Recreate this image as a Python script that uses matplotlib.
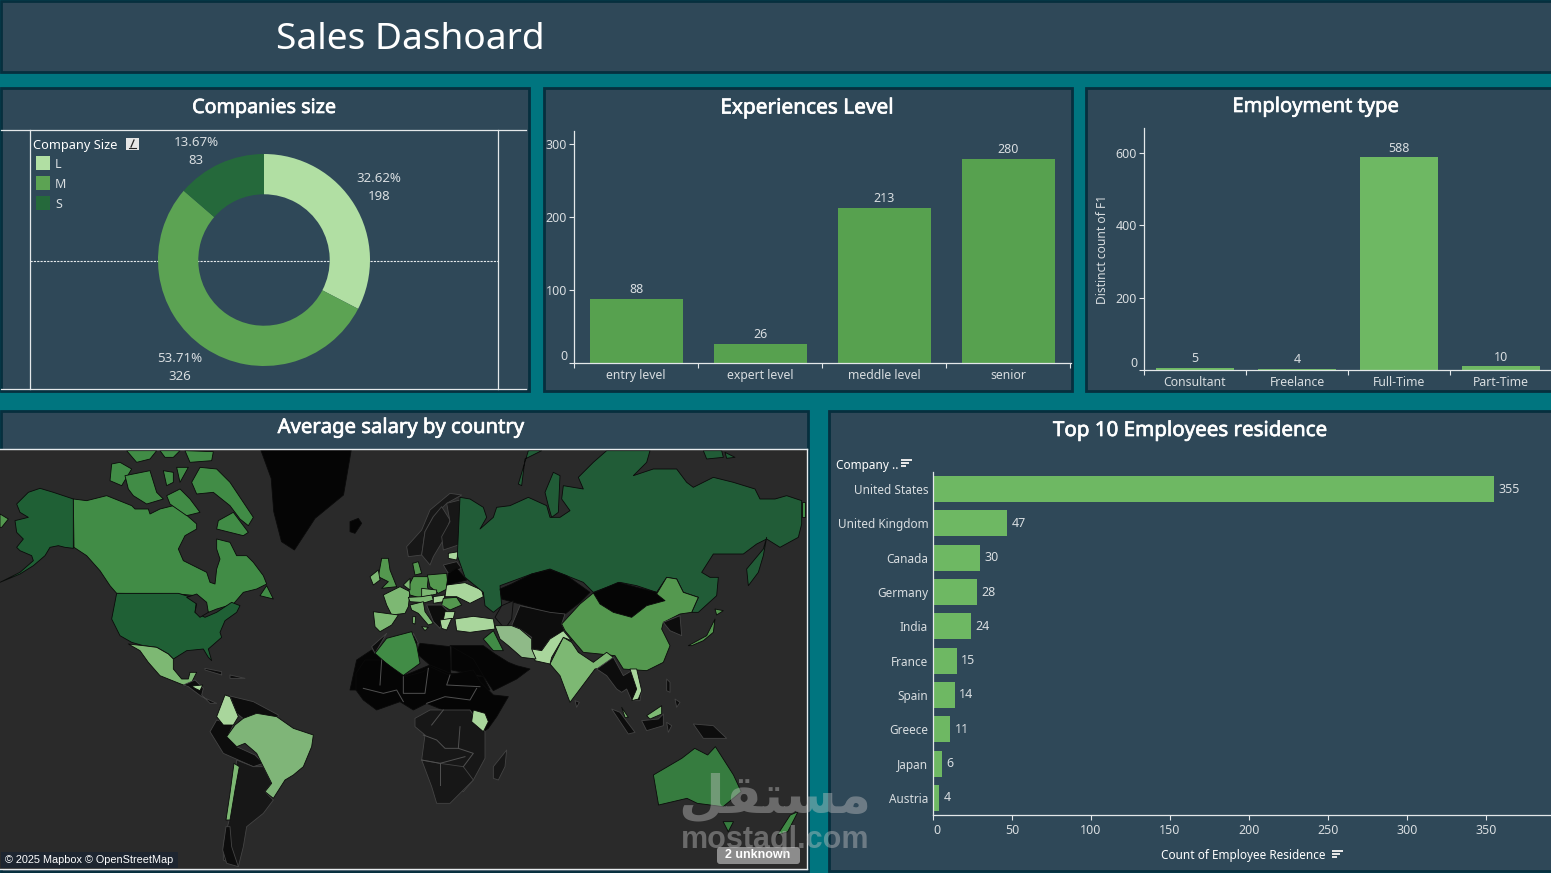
import matplotlib
matplotlib.use('Agg')
import matplotlib.pyplot as plt
import matplotlib.patheffects as pe
from matplotlib.patches import Rectangle, Polygon, FancyBboxPatch

plt.rcParams['font.family'] = ['Noto Sans', 'DejaVu Sans']

W, H = 1551, 873

size_labels = ['L', 'M', 'S']
size_counts = [198, 326, 83]
size_pcts = ['32.62%', '53.71%', '13.67%']

exp_levels = ['entry level', 'expert level', 'meddle level', 'senior']
exp_counts = [88, 26, 213, 280]
exp_ticks = [0, 100, 200, 300]

emp_types = ['Consultant', 'Freelance', 'Full-Time', 'Part-Time']
emp_counts = [5, 4, 588, 10]
emp_ticks = [0, 200, 400, 600]

countries = ['United States', 'United Kingdom', 'Canada', 'Germany', 'India',
             'France', 'Spain', 'Greece', 'Japan', 'Austria']
country_counts = [355, 47, 30, 28, 24, 15, 14, 11, 6, 4]
country_ticks = [0, 50, 100, 150, 200, 250, 300, 350]

# country shades on the map
deep = '#1f6035'
dark = '#215c37'
mid = '#418c46'
med2 = '#54984f'
aus = '#367c3f'
light = '#7db873'
brz = '#7fb578'
pale = '#a9d69c'
sage = '#8fba88'
black = '#050505'
coal = '#0d0d0d'
soot = '#171717'
sea = '#2a2a2a'

# outlines per map sheet, on a sheet grid three times the screen size
north_america = [
    ([(50,165),(85,130),(120,118),(160,130),(220,150),(220,298),(195,295),(175,290),(150,295),(135,320),(100,350),(60,375),(0,400),(60,370),(100,335),(95,320),(60,305),(50,295),(70,270),(50,250),(45,215),(85,205),(60,190)], deep),
    ([(220,150),(260,155),(300,145),(320,140),(345,150),(395,170),(405,180),(445,180),(450,195),(480,180),(520,170),(550,190),(590,225),(590,240),(555,260),(535,300),(550,335),(600,360),(620,370),(630,400),(645,405),(650,360),(660,330),(650,300),(650,270),(690,280),(710,320),(740,320),(760,340),(790,380),(800,405),(770,420),(730,430),(700,465),(650,480),(625,490),(610,460),(590,440),(535,435),(350,433),(330,410),(300,365),(260,320),(222,295)], mid),
    ([(780,440),(800,410),(820,450)], mid),
    ([(350,433),(535,433),(590,450),(585,490),(615,505),(650,490),(695,460),(720,470),(710,490),(675,515),(660,550),(665,565),(625,600),(635,635),(625,625),(610,600),(560,605),(520,630),(505,615),(470,595),(430,590),(395,580),(360,560),(335,510)], deep),
    ([(560,445),(590,435),(620,460),(625,490),(600,505),(585,490),(590,465)], sea),
    ([(385,585),(430,590),(470,595),(505,615),(520,630),(520,660),(545,690),(565,690),(570,670),(590,670),(575,700),(560,712),(530,700),(480,680),(445,640),(420,605)], light),
    ([(335,45),(360,40),(395,60),(365,110),(330,95)], mid),
    ([(375,80),(450,65),(470,130),(490,150),(440,165),(400,140),(385,120)], mid),
    ([(490,65),(520,70),(520,100),(500,110)], mid),
    ([(530,55),(565,55),(540,100)], mid),
    ([(575,100),(600,55),(650,60),(690,100),(730,160),(760,205),(745,230),(720,210),(690,170),(640,130),(590,135)], mid),
    ([(380,5),(470,5),(450,30),(410,40)], mid),
    ([(555,5),(640,8),(635,35),(570,40)], mid),
    ([(480,5),(540,5),(520,25),(495,25)], mid),
    ([(500,140),(540,120),(570,150),(600,190),(560,200),(510,165)], mid),
    ([(655,215),(700,190),(745,250),(730,260),(690,250),(650,240)], mid),
    ([(0,195),(25,210),(5,235),(0,235)], med2),
]

eurasia = [
    ([(30,145),(60,150),(100,175),(110,205),(90,240),(130,205),(140,175),(180,170),(235,145),(290,170),(300,205),(330,205),(360,185),(335,150),(340,110),(400,120),(385,85),(430,40),(470,5),(600,5),(590,40),(550,80),(610,60),(680,60),(710,100),(730,115),(790,85),(850,100),(915,120),(930,150),(975,150),(1010,140),(1055,155),(1055,225),(1045,265),(990,295),(950,270),(920,285),(880,315),(790,315),(755,370),(780,385),(805,385),(800,440),(745,490),(725,490),(745,445),(700,430),(680,390),(650,385),(620,430),(560,410),(510,400),(430,430),(400,400),(350,380),(300,360),(245,375),(150,410),(155,470),(130,490),(105,470),(100,430),(45,385),(22,320)], dark),
    ([(205,105),(235,5),(275,5),(225,30),(215,110)], dark),
    ([(285,130),(310,70),(330,80),(325,190),(305,205),(295,170)], dark),
    ([(895,410),(890,360),(940,300),(950,265),(940,320),(925,370)], dark),
    ([(760,5),(815,5),(820,25),(770,30)], dark),
    ([(825,10),(855,25),(830,28)], dark),
    ([(1055,160),(1066,160),(1066,205),(1055,205)], mid),
    ([(150,420),(185,405),(245,375),(300,362),(350,380),(420,430),(390,460),(345,495),(300,490),(210,465),(155,450)], black),
    ([(210,470),(300,490),(345,495),(335,525),(345,545),(300,570),(275,605),(245,600),(245,565),(210,540),(185,530)], coal),
    ([(155,470),(190,455),(185,510),(165,540),(135,505)], sea),
    ([(430,432),(470,415),(505,400),(560,415),(620,430),(645,455),(590,470),(545,505),(490,490),(450,465)], black),
    ([(335,525),(390,465),(430,432),(450,465),(490,490),(545,505),(590,470),(645,455),(620,435),(650,385),(680,390),(700,430),(745,445),(725,490),(690,495),(640,520),(635,540),(660,590),(640,640),(590,665),(520,660),(495,620),(450,615),(400,610),(370,575),(345,545)], med2),
    ([(300,645),(340,565),(365,580),(385,610),(430,640),(470,610),(490,625),(460,655),(435,660),(390,720),(360,760),(330,680)], light),
    ([(245,600),(275,605),(300,570),(340,545),(365,575),(340,565),(305,625),(300,645),(255,635)], pale),
    ([(135,530),(185,530),(210,540),(245,570),(245,600),(258,630),(215,625),(175,590),(150,570)], sage),
    ([(15,510),(70,502),(130,510),(135,540),(60,550),(20,545)], pale),
    ([(100,570),(130,545),(160,605),(130,605)], mid),
    ([(0,590),(65,590),(100,590),(135,615),(175,640),(200,650),(240,660),(200,690),(130,725),(100,680),(70,630)], black),
    ([(440,660),(490,625),(520,680),(545,665),(575,720),(570,755),(545,755),(530,720),(515,730),(500,720),(470,680)], coal),
    ([(540,660),(560,660),(575,725),(565,750),(545,755),(560,720)], pale),
    ([(640,520),(690,500),(695,560),(660,545)], coal),
    ([(715,590),(770,560),(795,510),(790,550),(760,575),(725,590)], med2),
    ([(795,480),(820,485),(800,498)], med2),
    ([(485,780),(510,790),(555,850),(535,855)], coal),
    ([(515,775),(535,805),(525,805)], light),
    ([(575,815),(625,810),(640,795),(640,830),(590,845)], coal),
    ([(590,800),(635,770),(635,795),(600,810)], light),
    ([(650,690),(660,700),(660,730),(650,725)], coal),
    ([(675,750),(690,760),(680,775)], coal),
    ([(650,820),(665,830),(655,850)], coal),
    ([(730,825),(790,830),(830,868),(760,868)], coal),
    ([(375,755),(388,760),(380,775)], coal),
]

europe = [
    ([(170,170),(215,120),(240,60),(300,10),(335,15),(290,40),(250,80),(225,125),(215,195),(175,200)], soot),
    ([(215,195),(225,125),(250,80),(275,50),(300,90),(280,150),(250,200),(240,225)], soot),
    ([(290,40),(330,30),(340,120),(325,165),(280,180),(275,140),(300,95)], soot),
    ([(0,95),(25,85),(35,100),(15,130),(0,125)], black),
    ([(85,260),(95,205),(115,205),(120,240),(140,290),(95,295),(115,275)], med2),
    ([(60,260),(85,240),(90,270),(70,285)], light),
    ([(100,315),(150,290),(180,305),(175,350),(165,370),(125,375),(110,345)], light),
    ([(70,365),(145,375),(125,405),(90,425),(75,410)], light),
    ([(175,290),(190,260),(235,260),(232,290),(240,310),(215,325),(180,315)], med2),
    ([(232,255),(290,250),(295,295),(265,310),(240,290)], med2),
    ([(215,295),(260,300),(260,312),(215,322)], light),
    ([(215,320),(245,315),(250,330),(225,338),(180,335),(175,322)], light),
    ([(250,320),(285,315),(280,335),(250,340)], pale),
    ([(290,285),(345,278),(395,300),(400,320),(360,340),(320,320),(285,320)], pale),
    ([(280,325),(320,322),(335,345),(300,360),(275,345)], med2),
    ([(180,345),(220,335),(225,365),(250,400),(235,405),(205,370),(185,360)], light),
    ([(215,410),(235,412),(225,422)], light),
    ([(188,380),(197,380),(195,402),(188,400)], light),
    ([(230,345),(275,345),(305,375),(280,390),(270,415),(250,395)], coal),
    ([(285,365),(315,365),(310,385),(280,390)], pale),
    ([(270,390),(305,385),(290,420),(275,415)], pale),
    ([(295,190),(325,185),(320,210),(295,205)], pale),
    ([(280,225),(320,215),(335,235),(295,250)], coal),
    ([(295,250),(320,235),(350,270),(290,285)], black),
    ([(188,220),(205,215),(215,250),(195,255)], med2),
    ([(160,285),(180,265),(180,300)], light),
    ([(0,600),(20,510),(65,480),(75,490),(155,560),(100,600)], black),
    ([(65,470),(110,430),(75,490)], coal),
    ([(200,490),(210,460),(300,470),(302,550),(240,525)], black),
    ([(305,470),(360,480),(405,560),(305,540)], black),
    ([(190,430),(205,460),(190,470)], coal),
    ([(75,490),(110,445),(185,425),(200,465),(210,520),(155,560)], mid),
    ([(155,560),(240,525),(302,550),(400,560),(420,600),(100,600)], black),
]

south_lands = [
    ([(678,40),(705,0),(755,0),(825,50),(880,35),(900,20),(955,45),(1030,30),(1050,65),(1090,105),(1135,110),(1100,170),(1075,205),(1060,215),(1020,150),(940,150),(890,130),(850,150),(810,125),(740,150),(700,120),(678,90)], black),
    ([(855,175),(900,150),(1020,150),(1065,215),(1065,295),(1030,360),(1000,395),(875,300),(885,225),(855,200)], soot),
    ([(875,300),(930,310),(1000,320),(1030,360),(1010,380),(960,430),(920,430),(905,380)], soot),
    ([(1030,150),(1065,160),(1075,185),(1060,215),(1025,185)], pale),
    ([(1090,320),(1130,270),(1125,320),(1105,360),(1090,355)], soot),
    ([(160,75),(195,60),(220,85),(215,105),(240,130),(260,130),(215,110),(175,80)], coal),
    ([(185,78),(218,75),(210,92),(195,85)], pale),
    ([(225,25),(275,35),(275,45),(225,30)], coal),
    ([(300,45),(345,55),(300,55)], coal),
    ([(300,108),(370,125),(445,165),(440,180),(380,160),(345,180),(320,160)], coal),
    ([(240,215),(260,180),(310,195),(295,225),(320,260),(375,285),(400,310),(370,320),(325,300),(280,280)], coal),
    ([(260,170),(285,105),(300,110),(325,170),(310,195),(280,195)], pale),
    ([(320,300),(370,320),(400,320),(425,370),(405,395),(430,420),(400,460),(350,500),(340,560),(325,620),(280,600),(280,550),(300,470)], soot),
    ([(290,230),(315,195),(340,175),(380,160),(440,170),(490,205),(550,225),(545,260),(520,320),(490,345),(465,360),(430,415),(405,395),(425,370),(400,320),(380,280),(345,250),(320,260)], brz),
    ([(312,310),(328,320),(315,390),(300,480),(288,480),(300,400)], light),
    ([(288,500),(300,500),(305,560),(325,620),(290,610),(278,570)], coal),
]

# african borders on the same sheet
africa_borders = [
    [(700,85),(760,100),(800,90),(820,125)],
    [(755,0),(750,75)],
    [(820,50),(820,100),(885,100),(895,25)],
    [(960,45),(950,75),(1050,80)],
    [(890,130),(945,110),(1020,120),(1040,85)],
    [(905,195),(940,150)],
    [(990,200),(985,265),(1030,280),(1000,320)],
    [(930,310),(930,375)],
    [(880,225),(920,240),(945,265),(985,265)],
    [(875,300),(930,310),(1005,290)],
]

# greenland and the southern pacific, on a wider sheet
far_lands = [
    ([(505,15),(680,15),(665,150),(610,220),(570,315),(545,290),(530,200),(525,100)], black),
    ([(1265,990),(1320,940),(1345,910),(1370,930),(1385,905),(1420,990),(1435,1040),(1400,1085),(1350,1075),(1330,1060),(1275,1080)], aus),
    ([(1400,1130),(1420,1130),(1410,1160)], aus),
    ([(1530,1110),(1545,1100),(1525,1160),(1505,1170)], mid),
]

teal = '#00757f'
panel = '#2f4858'
border = '#062f3e'
txt = '#d8dde0'
axis_col = '#e4e8ea'
bar_exp = '#57a14f'
bar_emp = '#6eb863'
size_colors = ['#b1dfa3', '#5ca353', '#25693b']
heavy = [pe.withStroke(linewidth=0.5, foreground='white')]


def px_axes(left, top, right, bottom, **kw):
    return fig.add_axes([left / W, 1 - bottom / H, (right - left) / W, (bottom - top) / H], **kw)


def style_bar_axes(ax):
    ax.patch.set_alpha(0)
    for s in ['top', 'right']:
        ax.spines[s].set_visible(False)
    for s in ['left', 'bottom']:
        ax.spines[s].set_color(axis_col)
        ax.spines[s].set_linewidth(0.9)
    ax.tick_params(colors=txt, labelsize=9, length=3.5, width=0.8, color=axis_col, pad=1.5)


def sheet_points(pts, ox, oy, sx=3.0, sy=3.0):
    return [(ox + x / sx, oy + y / sy) for x, y in pts]


fig = plt.figure(figsize=(W / 100, H / 100), dpi=100, facecolor=teal)

# background layer with all the panels
bg = px_axes(0, 0, W, H, zorder=0)
bg.set_xlim(0, W)
bg.set_ylim(H, 0)
bg.axis('off')
for x0, y0, x1, y1 in [(1, 1, 1552, 72), (1, 88, 528.5, 390.5), (544, 88, 1071.5, 390.5),
                       (1086, 88, 1553, 390.5), (1, 411, 808, 872), (829, 411, 1553, 871)]:
    bg.add_patch(Rectangle((x0, y0), x1 - x0, y1 - y0, fc=panel, ec=border, lw=2))

bg.text(276, 40, 'Sales Dashoard', color='white', fontsize=26.7, va='center')
panel_titles = [(264, 108, 'Companies size', 14.2), (807, 108, 'Experiences Level', 15),
                (1316, 107, 'Employment type', 14.5), (401, 428, 'Average salary by country', 14.6),
                (1190, 431, 'Top 10 Employees residence', 14.8)]
for x, y, label, fs in panel_titles:
    bg.text(x, y, label, color='white', fontsize=fs, ha='center', va='center', path_effects=heavy)

# frame lines of the donut sheet
bg.plot([1, 526], [130, 130], color=axis_col, lw=0.9)
bg.plot([1, 526], [389, 389], color=axis_col, lw=0.9)
bg.plot([30, 30], [130, 389], color=axis_col, lw=0.9)
bg.plot([498, 498], [130, 389], color=axis_col, lw=0.9)
bg.plot([30, 498], [261, 261], color=axis_col, lw=0.8, ls=(0, (2, 1)))

# legend for company size
bg.text(33, 145, 'Company Size', color='white', fontsize=9.2, va='center')
bg.add_patch(Rectangle((126, 138), 13, 12, fc='#e6e6e6', ec='none'))
bg.plot([129, 136], [148, 148], color='#222222', lw=0.8)
bg.plot([131, 134], [147, 140], color='#222222', lw=0.9)
for i, lab in enumerate(size_labels):
    y = 163 + 20 * i
    bg.add_patch(Rectangle((36, y - 7), 14, 14, fc=size_colors[i], ec='none'))
    bg.text(55, y + 1, lab, color=txt, fontsize=9, va='center')

# donut
donut = px_axes(158, 154, 370, 366, zorder=2)
donut.pie(size_counts, colors=size_colors, startangle=90, counterclock=False, radius=1,
          wedgeprops={'width': 0.38, 'linewidth': 0})
donut.set_xlim(-1, 1)
donut.set_ylim(-1, 1)

size_label_pos = [(379, 187), (180, 368), (196, 151)]
for (x, y), pct, n in zip(size_label_pos, size_pcts, size_counts):
    bg.text(x, y - 9, pct, color=txt, fontsize=9.5, ha='center', va='center')
    bg.text(x, y + 9, str(n), color=txt, fontsize=9.5, ha='center', va='center')

# experience bars
ax1 = px_axes(574, 131, 1071, 363, zorder=2)
ax1.bar(range(4), exp_counts, width=0.75, color=bar_exp)
ax1.set_xlim(-0.5, 3.508)
ax1.set_ylim(0, 232 / 0.73)
ax1.set_xticks([-0.5, 0.5, 1.5, 2.5, 3.5])
ax1.set_xticklabels([])
ax1.set_yticks(exp_ticks)
ax1.set_yticklabels(exp_ticks)
style_bar_axes(ax1)
ax1.get_yticklabels()[0].set_va('bottom')
for i, v in enumerate(exp_counts):
    ax1.annotate(str(v), (i, v), xytext=(0, 2), textcoords='offset points', ha='center',
                 va='bottom', color=txt, fontsize=9)
    ax1.annotate(exp_levels[i], (i, 0), xytext=(0, -4.5), textcoords='offset points', ha='center',
                 va='top', color=txt, fontsize=8.8)

# employment type bars
ax2 = px_axes(1144, 128, 1551, 370, zorder=2)
ax2.bar(range(4), emp_counts, width=0.76, color=bar_emp)
ax2.set_xlim(-0.5, 3.49)
ax2.set_ylim(0, 242 / 0.3617)
ax2.set_xticks([-0.5, 0.5, 1.5, 2.5])
ax2.set_xticklabels([])
ax2.set_yticks(emp_ticks)
ax2.set_yticklabels(emp_ticks)
style_bar_axes(ax2)
ax2.get_yticklabels()[0].set_va('bottom')
ax2.set_ylabel('Distinct count of F1', color=txt, fontsize=8.7, labelpad=5)
for i, v in enumerate(emp_counts):
    ax2.annotate(str(v), (i, v), xytext=(0, 2), textcoords='offset points', ha='center',
                 va='bottom', color=txt, fontsize=9)
    ax2.annotate(emp_types[i], (i, 0), xytext=(0, -4), textcoords='offset points', ha='center',
                 va='top', color=txt, fontsize=8.8)

# top 10 horizontal bars
ax3 = px_axes(933, 472, 1551, 815, zorder=2)
ax3.barh(range(10), country_counts, height=0.76, color=bar_emp)
ax3.set_xlim(0, 618 / 1.58)
ax3.set_ylim(9.5, -0.5)
ax3.set_yticks(range(10))
ax3.set_yticklabels(countries)
ax3.set_xticks(country_ticks)
ax3.set_xticklabels(country_ticks)
style_bar_axes(ax3)
ax3.tick_params(axis='y', length=0, pad=3.5, labelsize=8.5)
ax3.tick_params(axis='x', pad=3)
ax3.get_xticklabels()[0].set_ha('left')
for i, v in enumerate(country_counts):
    ax3.annotate(str(v), (v, i), xytext=(3, 0), textcoords='offset points', va='center',
                 color=txt, fontsize=9)
bg.text(836, 465, 'Company ..', color='white', fontsize=8.5, va='center')
bg.text(1243, 856, 'Count of Employee Residence', color='white', fontsize=8.5, ha='center', va='center')
for ix, iy in [(901, 459), (1332, 850)]:
    for k, wd in enumerate([11, 8, 5]):
        bg.add_patch(Rectangle((ix, iy + k * 3), wd, 2, fc='#e6e6e6', ec='none'))

# map
mp = px_axes(0, 449, 807, 869, zorder=3)
mp.set_xlim(0, 807)
mp.set_ylim(869, 449)
mp.patch.set_facecolor(sea)
for s in mp.spines.values():
    s.set_color('#e8ecee')
    s.set_linewidth(1)
mp.spines['left'].set_visible(False)
mp.set_xticks([])
mp.set_yticks([])

sheets = [(north_america, 0, 449, 3.0, 3.0), (europe, 350, 490, 3.0, 3.0),
          (eurasia, 450, 449, 3.0, 3.0), (south_lands, 130, 660, 3.0, 3.0),
          (far_lands, 0, 445, 1.936, 3.0)]
for shapes, ox, oy, sx, sy in sheets:
    for pts, col in shapes:
        edge = '#444444' if col in (coal, soot) else '#0a0a0a'
        mp.add_patch(Polygon(sheet_points(pts, ox, oy, sx, sy), closed=True, fc=col, ec=edge,
                             lw=0.6, joinstyle='round'))
for line in africa_borders:
    pts = sheet_points(line, 130, 660)
    mp.plot([p[0] for p in pts], [p[1] for p in pts], color='#505050', lw=0.7)

# overlay: map credits and watermark
top = px_axes(0, 0, W, H, zorder=5)
top.set_xlim(0, W)
top.set_ylim(H, 0)
top.axis('off')
top.add_patch(Rectangle((1, 852), 177, 16, fc='#1d2530', ec='none'))
top.text(5, 860, '© 2025 Mapbox © OpenStreetMap', color='white', fontsize=7.8,
         family=['Liberation Sans'], va='center')
top.add_patch(FancyBboxPatch((718, 848), 81, 15, boxstyle='round,pad=1,rounding_size=3',
                             fc='#8c8c8c', ec='none'))
top.text(758, 855.5, '2 unknown', color='white', fontsize=9, fontweight='bold',
         family=['Liberation Sans'], ha='center', va='center')
top.text(775, 797, '\uFEDE\uFED8\uFE98\uFEB4\uFEE3', color='#c4c4c4', alpha=0.42, fontsize=38,
         family=['DejaVu Sans'], fontweight='bold', ha='center', va='center')
top.text(775, 840, 'mostaql.com', color='#c4c4c4', alpha=0.42, fontsize=22,
         family=['Liberation Sans'], fontweight='bold', ha='center', va='center')

fig.savefig('out.png', dpi=100, facecolor=teal)
